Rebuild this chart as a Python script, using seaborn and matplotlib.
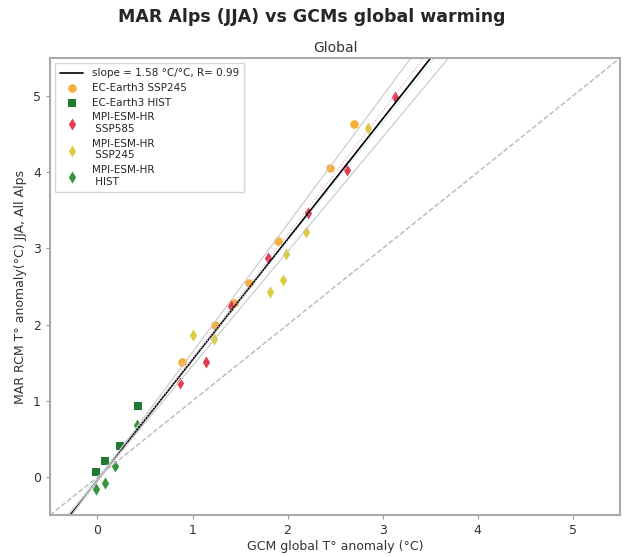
import numpy as np
import pandas as pd
import seaborn as sns
import matplotlib
matplotlib.use('Agg')
from matplotlib import pyplot as plt

# --- values ---
ec_ssp245_x = [2.70, 2.45, 1.90, 1.59, 1.44, 1.24, 0.89]
ec_ssp245_y = [4.63, 4.06, 3.10, 2.55, 2.28, 2.00, 1.51]

ec_hist_x = [0.43, 0.24, 0.08, -0.02]
ec_hist_y = [0.93, 0.41, 0.21, 0.07]

mpi_ssp585_x = [3.13, 2.63, 2.22, 1.79, 1.41, 1.14, 0.87]
mpi_ssp585_y = [4.99, 4.03, 3.46, 2.87, 2.25, 1.51, 1.24]

mpi_ssp245_x = [2.85, 2.19, 1.98, 1.95, 1.82, 1.23, 1.01]
mpi_ssp245_y = [4.58, 3.21, 2.93, 2.58, 2.43, 1.81, 1.87]

mpi_hist_x = [0.42, 0.18, 0.08, -0.01]
mpi_hist_y = [0.69, 0.14, -0.08, -0.16]

labels = ["EC-Earth3 SSP245", "EC-Earth3 HIST", "MPI-ESM-HR\n SSP585",
          "MPI-ESM-HR\n SSP245", "MPI-ESM-HR\n HIST"]
colors = ["#f5a623", "#0b6b1c", "#e0283c", "#d8c62a", "#1f8a2a"]
markers = ["o", "s", "d", "d", "d"]

# regression + spread lines
slope, intercept, r_val = 1.58, -0.04, 0.99
spread_slopes = [1.50, 1.68]
model_slopes = [1.55, 1.62]
model_inter = [0.0, -0.06]

xs = [ec_ssp245_x, ec_hist_x, mpi_ssp585_x, mpi_ssp245_x, mpi_hist_x]
ys = [ec_ssp245_y, ec_hist_y, mpi_ssp585_y, mpi_ssp245_y, mpi_hist_y]

sns.set_style("ticks")
fig = plt.figure(figsize=(6.24, 5.57), dpi=100)
ax = fig.add_axes([0.080, 0.075, 0.914, 0.821])

ax.axline((0, intercept), slope=slope, color="black", lw=1.2,
          label=f"slope = {slope} °C/°C, R= {r_val}")
ax.axline((0, 0), slope=1, color="#b8b8b8", lw=1, ls="--")
for s in spread_slopes:
    ax.axline((0, intercept), slope=s, color="#c8c8c8", lw=0.8)
ax.axline((0, model_inter[0]), slope=model_slopes[0], color="#9fd8e8", lw=0.8, ls=":")
ax.axline((0, model_inter[1]), slope=model_slopes[1], color="#e8a0c8", lw=0.8, ls=":")

for x, y, lab, c, m in zip(xs, ys, labels, colors, markers):
    sns.scatterplot(x=x, y=y, ax=ax, color=c, marker=m, s=38, linewidth=0,
                    alpha=0.9, label=lab)

ax.set_xlim(-0.5, 5.5)
ax.set_ylim(-0.5, 5.5)
ax.set_xticks(range(0, 6))
ax.set_yticks(range(0, 6))
ax.tick_params(labelsize=9, colors="#333333", length=3, color="#999999")
for sp in ax.spines.values():
    sp.set_visible(True)
    sp.set_color("#aaaaaa")
    sp.set_linewidth(1.5)

ax.set_xlabel("GCM global T° anomaly (°C)", fontsize=9, color="#333333", labelpad=2)
ax.set_ylabel("MAR RCM T° anomaly(°C) JJA, All Alps", fontsize=9, color="#333333", labelpad=4)
ax.set_title("Global", fontsize=10, color="#333333", pad=4)
fig.suptitle("MAR Alps (JJA) vs GCMs global warming", fontsize=12.5, fontweight="bold", y=0.985)

ax.legend(loc="upper left", fontsize=7.5, frameon=True, fancybox=False,
          edgecolor="#cccccc", handlelength=2.2, labelspacing=0.45, borderpad=0.5)

plt.savefig("out.png", dpi=100)
